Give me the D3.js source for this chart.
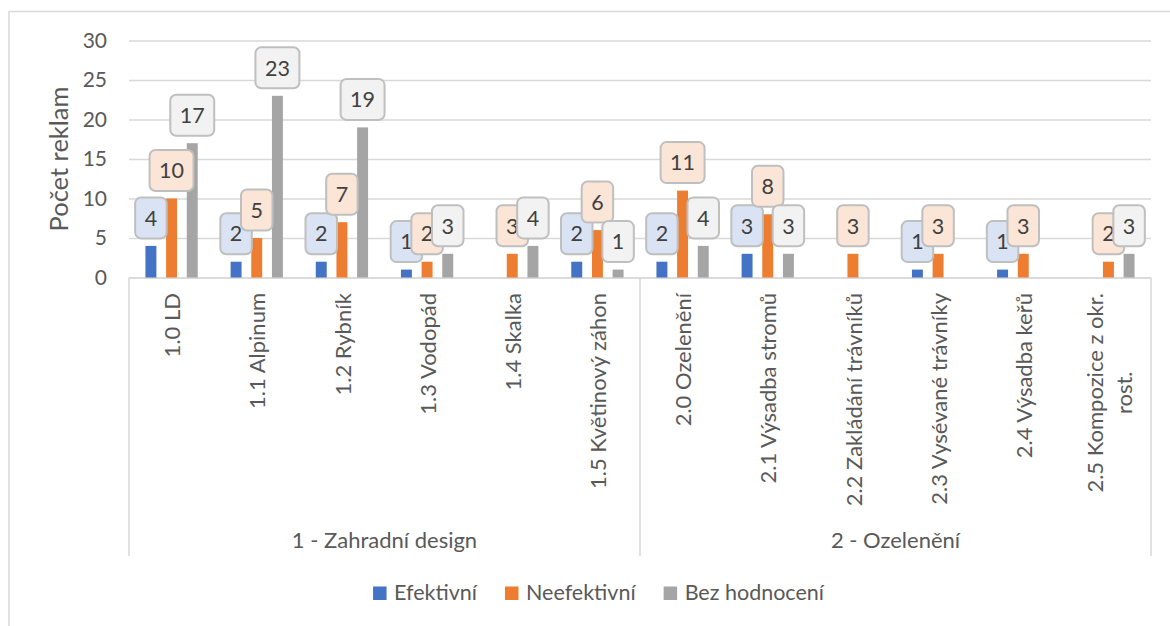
<!DOCTYPE html>
<html>
<head>
<meta charset="utf-8">
<script src="https://cdn.jsdelivr.net/npm/d3@7"></script>
<style>
  body { margin: 0; background: #fff; }
  svg { display: block; font-family: Lato, sans-serif; }
</style>
</head>
<body>
<svg id="chart" width="1170" height="626"></svg>
<script>
// Data
const categories = ["1.0 LD", "1.1 Alpinum", "1.2 Rybník", "1.3 Vodopád", "1.4 Skalka", "1.5 Květinový záhon",
  "2.0 Ozelenění", "2.1 Výsadba stromů", "2.2 Zakládání trávníků", "2.3 Vysévané trávníky", "2.4 Výsadba keřů",
  "2.5 Kompozice z okr.\nrost."];
const groupNames = ["1 - Zahradní design", "2 - Ozelenění"];
const groupSizes = [6, 6];
const seriesNames = ["Efektivní", "Neefektivní", "Bez hodnocení"];
const efektivni    = [4, 2, 2, 1, 0, 2, 2, 3, 0, 1, 1, 0];
const neefektivni  = [10, 5, 7, 2, 3, 6, 11, 8, 3, 3, 3, 2];
const bezHodnoceni = [17, 23, 19, 3, 4, 1, 4, 3, 0, 0, 0, 3];
const yTicks = [0, 5, 10, 15, 20, 25, 30];
const yTitle = "Počet reklam";

const seriesValues = [efektivni, neefektivni, bezHodnoceni];
const colors = ["#4472C4", "#ED7D31", "#A5A5A5"];
const labelFills = ["#DAE3F3", "#FBE5D6", "#F2F2F2"];

const textColor = "#595959";
const lineColor = "#D9D9D9";

const svg = d3.select("#chart");

// chart frame (runs off the right / bottom edge like in the screenshot)
svg.append("rect")
  .attr("x", 9).attr("y", 11.5)
  .attr("width", 1200).attr("height", 700)
  .attr("fill", "#fff")
  .attr("stroke", lineColor).attr("stroke-width", 1.5);

// scales
const plot = { left: 129, right: 1151, top: 40.5, bottom: 277.5 };

const x0 = d3.scaleBand()
  .domain(categories)
  .range([plot.left, plot.right])
  .paddingInner(0.272)
  .paddingOuter(0.136);

const x1 = d3.scaleBand()
  .domain(seriesNames)
  .range([0, x0.bandwidth()])
  .paddingInner(0.47)
  .paddingOuter(0.235);

const y = d3.scaleLinear()
  .domain([0, 30])
  .range([plot.bottom, plot.top]);

// y axis: gridlines + tick labels
const yAxis = svg.append("g")
  .attr("transform", `translate(${plot.left},0)`)
  .call(d3.axisLeft(y)
    .tickValues(yTicks)
    .tickSize(-(plot.right - plot.left))
    .tickPadding(22));

yAxis.select(".domain").remove();
yAxis.selectAll(".tick line")
  .attr("stroke", lineColor)
  .attr("stroke-width", 1.5);
yAxis.selectAll(".tick text")
  .attr("fill", textColor)
  .style("font-family", "Lato, sans-serif")
  .style("font-size", "21px");

svg.append("text")
  .attr("transform", `translate(59,${(plot.top + plot.bottom) / 2}) rotate(-90)`)
  .attr("text-anchor", "middle")
  .attr("dy", "0.35em")
  .attr("fill", textColor)
  .style("font-size", "25.5px")
  .text(yTitle);

// category axis line + group separators
svg.append("line")
  .attr("x1", plot.left).attr("x2", plot.right)
  .attr("y1", plot.bottom + 0.5).attr("y2", plot.bottom + 0.5)
  .attr("stroke", lineColor).attr("stroke-width", 1.5);

const half = x0.step() * x0.paddingInner() / 2;
let start = 0;
const groups = groupSizes.map((n, gi) => {
  const first = categories[start], last = categories[start + n - 1];
  start += n;
  return {
    name: groupNames[gi],
    x1: x0(first) - half,
    x2: x0(last) + x0.bandwidth() + half
  };
});

const sepX = [groups[0].x1].concat(groups.map(g => g.x2));
svg.append("g").selectAll("line")
  .data(sepX)
  .join("line")
  .attr("x1", d => d).attr("x2", d => d)
  .attr("y1", plot.bottom).attr("y2", 556)
  .attr("stroke", lineColor).attr("stroke-width", 1.5);

svg.append("g").selectAll("text")
  .data(groups)
  .join("text")
  .attr("x", d => (d.x1 + d.x2) / 2)
  .attr("y", 548)
  .attr("text-anchor", "middle")
  .attr("fill", textColor)
  .style("font-size", "22px")
  .text(d => d.name);

// rotated category labels (multi-line ones are centred within their block)
const catLabels = svg.append("g").selectAll("text")
  .data(categories)
  .join("text")
  .attr("transform", d => `translate(${x0(d) + x0.bandwidth() / 2 + 1},293) rotate(-90)`)
  .attr("fill", textColor)
  .style("font-size", "22px");

catLabels.each(function(d) {
  const lines = d.split("\n");
  const t = d3.select(this);
  const spans = lines.map((line, i) => t.append("tspan")
    .attr("y", (i - (lines.length - 1) / 2) * 29)
    .attr("dy", "0.35em")
    .attr("text-anchor", "middle")
    .text(line));
  const maxLen = d3.max(spans, s => s.node().getComputedTextLength());
  spans.forEach(s => s.attr("x", -maxLen / 2));
});

// bars
seriesNames.forEach((s, si) => {
  svg.append("g").selectAll("rect")
    .data(seriesValues[si])
    .join("rect")
    .attr("x", (d, i) => x0(categories[i]) + x1(s))
    .attr("y", d => y(d))
    .attr("width", x1.bandwidth())
    .attr("height", d => y(0) - y(d))
    .attr("fill", colors[si]);
});

// data callouts
seriesNames.forEach((s, si) => {
  const pts = seriesValues[si]
    .map((v, i) => ({ v, cx: x0(categories[i]) + x1(s) + x1.bandwidth() / 2 }))
    .filter(p => p.v > 0);

  const lab = svg.append("g").selectAll("g")
    .data(pts)
    .join("g")
    .attr("transform", d => `translate(${d.cx},${y(d.v) - 7.5 - 20.5})`);

  lab.append("rect")
    .attr("y", -20.5)
    .attr("height", 41)
    .attr("rx", 6)
    .attr("fill", labelFills[si])
    .attr("stroke", "#BFBFBF")
    .attr("stroke-width", 2);

  lab.append("text")
    .attr("text-anchor", "middle")
    .attr("dy", "0.36em")
    .attr("fill", "#404040")
    .style("font-size", "21.5px")
    .text(d => d.v);

  lab.each(function() {
    const g = d3.select(this);
    const w = g.select("text").node().getComputedTextLength() + 19;
    g.select("rect").attr("x", -w / 2).attr("width", w);
  });
});

// legend
const legend = svg.append("g");
const items = legend.selectAll("g")
  .data(seriesNames)
  .join("g");

items.append("rect")
  .attr("y", 586.5)
  .attr("width", 13.5).attr("height", 13.5)
  .attr("fill", (d, i) => colors[i]);

items.append("text")
  .attr("x", 21)
  .attr("y", 599.5)
  .attr("fill", textColor)
  .style("font-size", "21.5px")
  .text(d => d);

let lx = 0;
const offsets = [];
items.each(function() {
  offsets.push(lx);
  lx += 21 + d3.select(this).select("text").node().getComputedTextLength() + 28;
});
const legendWidth = lx - 28;
const legendStart = 598.5 - legendWidth / 2;
items.attr("transform", (d, i) => `translate(${legendStart + offsets[i]},0)`);
</script>
</body>
</html>
